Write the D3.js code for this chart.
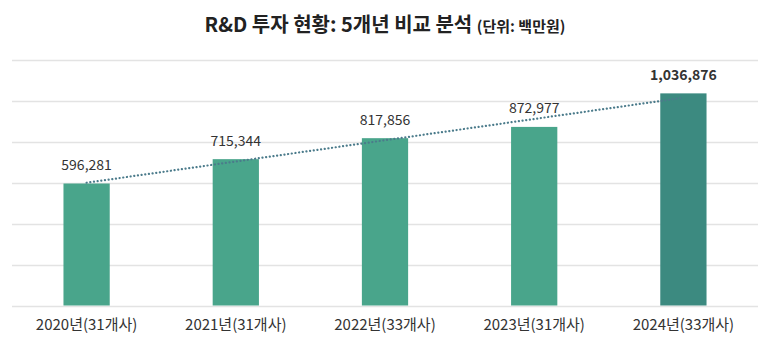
<!DOCTYPE html>
<html><head><meta charset="utf-8">
<script src="https://cdn.jsdelivr.net/npm/d3@7"></script>
<style>body{margin:0;background:#fff}svg{display:block}text{font-family:"Noto Sans CJK KR","Noto Sans",sans-serif}</style>
</head><body><svg id="c" width="771" height="347"></svg>
<script>
const categories = ["2020년(31개사)","2021년(31개사)","2022년(33개사)","2023년(31개사)","2024년(33개사)"];
const values = [596281, 715344, 817856, 872977, 1036876];
const gridTicks = [0, 200000, 400000, 600000, 800000, 1000000, 1200000];
const barColors = ["#49a58b","#49a58b","#49a58b","#49a58b","#3c8a80"];

(function () {
const svg = d3.select("#c");
const mLeft = 12, mRight = 758, mTop = 60, mBottom = 305.5;
const x = d3.scaleBand().domain(categories).range([mLeft, mRight]).paddingInner(0.69).paddingOuter(0.345);
const y = d3.scaleLinear().domain([0, 1200000]).range([mBottom, mTop]);

// title
const t = svg.append("text").attr("x", 385).attr("y", 32).attr("text-anchor", "middle").attr("fill", "#222");
t.append("tspan").attr("font-size", 20).attr("font-weight", "bold").text("R&D 투자 현황: 5개년 비교 분석 ");
t.append("tspan").attr("font-size", 15).attr("font-weight", "bold").text("(단위: 백만원)");

// grid
svg.append("g").selectAll("line").data(gridTicks).join("line")
  .attr("x1", mLeft).attr("x2", mRight)
  .attr("y1", d => Math.round(y(d)) + 0.5).attr("y2", d => Math.round(y(d)) + 0.5)
  .attr("stroke", "#e3e3e3").attr("stroke-width", 1.3);

// bars
svg.append("g").selectAll("rect").data(values).join("rect")
  .attr("x", (d, i) => x(categories[i])).attr("width", x.bandwidth())
  .attr("y", d => y(d)).attr("height", d => y(0) - y(d))
  .attr("fill", (d, i) => barColors[i]);

// trendline (linear regression)
const n = values.length, xs = d3.range(n);
const mx = d3.mean(xs), my = d3.mean(values);
const slope = d3.sum(xs, (xi, i) => (xi - mx) * (values[i] - my)) / d3.sum(xs, xi => (xi - mx) ** 2);
const icpt = my - slope * mx;
const cx = i => x(categories[i]) + x.bandwidth() / 2;
svg.append("line")
  .attr("x1", cx(0)).attr("y1", y(icpt))
  .attr("x2", cx(n - 1)).attr("y2", y(icpt + slope * (n - 1)))
  .attr("stroke", "#4b7b8b").attr("stroke-width", 2.2)
  .attr("stroke-dasharray", "0.1 3.6").attr("stroke-linecap", "round");

// value labels
svg.append("g").selectAll("text").data(values).join("text")
  .attr("x", (d, i) => cx(i)).attr("y", d => y(d) - 13.5)
  .attr("text-anchor", "middle").attr("font-size", 14)
  .attr("font-weight", (d, i) => i === n - 1 ? "bold" : "normal")
  .attr("fill", "#333").text(d => d3.format(",")(d));

// x axis labels
const ax = svg.append("g").attr("transform", `translate(0,${mBottom})`)
  .call(d3.axisBottom(x).tickSize(0).tickPadding(14));
ax.select(".domain").remove();
ax.selectAll("text").attr("font-size", 15).attr("fill", "#333")
  .style("font-family", '"Noto Sans CJK KR","Noto Sans",sans-serif');
})();
</script></body></html>
